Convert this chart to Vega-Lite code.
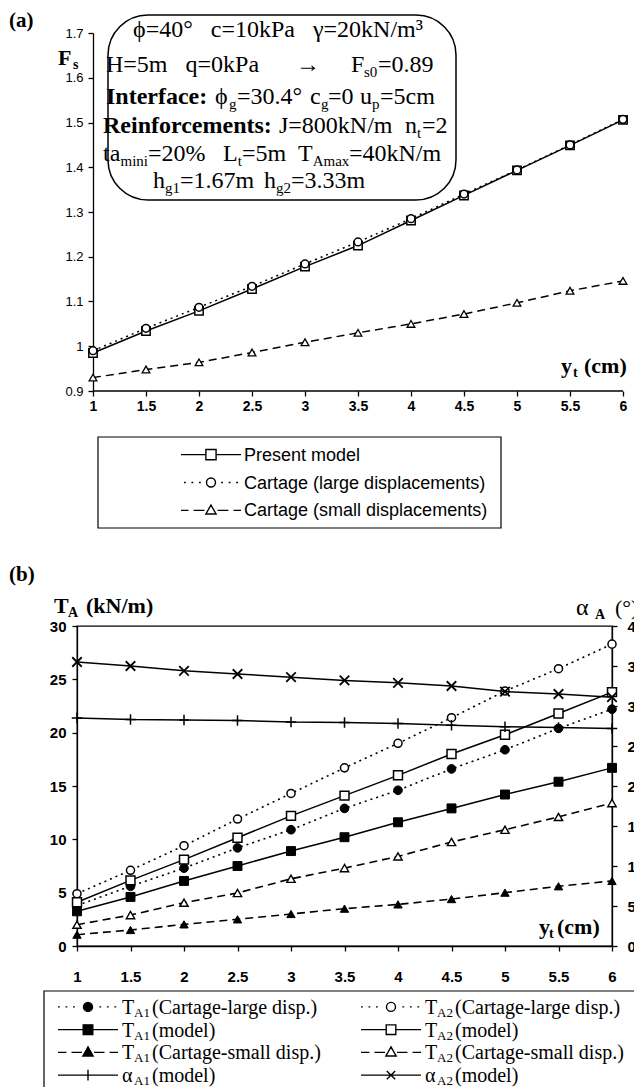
{
"$schema":"https://vega.github.io/schema/vega-lite/v6.json",
"background":"white",
"padding":{"left":8,"top":10,"right":0,"bottom":0},
"config":{"view":{"stroke":null},"axis":{"grid":false,"domainColor":"black","tickColor":"black","labelColor":"black","labelFont":"Liberation Sans","domainWidth":1.3,"tickWidth":1.3,"labelFlush":false,"labelOverlap":false}},
"spacing":34,
"resolve":{"scale":{"shape":"independent","fill":"independent"}},
"vconcat":[
{"spacing":23,"vconcat":[
{"width":546,"height":358,
"layer":[
{"data":{"values":[{}]},"mark":{"type":"rect","fill":"white","stroke":"black","strokeWidth":1.5,"cornerRadius":40},
"encoding":{"x":{"datum":1.1415,"type":"quantitative","scale":{"domain":[0.84906,6],"nice":false,"zero":false}},"x2":{"datum":4.4245},
"y":{"datum":1.74,"type":"quantitative","scale":{"domain":[0.9,1.7],"nice":false,"zero":false}},"y2":{"datum":1.327}}},
{"data":{"values":[{}]},"mark":{"type":"rule","stroke":"black","strokeWidth":1.3},"encoding":{"x":{"datum":1,"type":"quantitative"},"x2":{"datum":6},"y":{"datum":0.9,"type":"quantitative"}}},
{"data":{"values":[
{"x":1,"s":"m","v":0.985},{"x":1.5,"s":"m","v":1.034},{"x":2,"s":"m","v":1.079},{"x":2.5,"s":"m","v":1.128},{"x":3,"s":"m","v":1.178},{"x":3.5,"s":"m","v":1.225},{"x":4,"s":"m","v":1.281},{"x":4.5,"s":"m","v":1.337},{"x":5,"s":"m","v":1.393},{"x":5.5,"s":"m","v":1.449},{"x":6,"s":"m","v":1.506},
{"x":1,"s":"l","v":0.99},{"x":1.5,"s":"l","v":1.04},{"x":2,"s":"l","v":1.087},{"x":2.5,"s":"l","v":1.134},{"x":3,"s":"l","v":1.184},{"x":3.5,"s":"l","v":1.233},{"x":4,"s":"l","v":1.285},{"x":4.5,"s":"l","v":1.34},{"x":5,"s":"l","v":1.394},{"x":5.5,"s":"l","v":1.45},{"x":6,"s":"l","v":1.507},
{"x":1,"s":"s","v":0.93},{"x":1.5,"s":"s","v":0.948},{"x":2,"s":"s","v":0.964},{"x":2.5,"s":"s","v":0.986},{"x":3,"s":"s","v":1.009},{"x":3.5,"s":"s","v":1.03},{"x":4,"s":"s","v":1.05},{"x":4.5,"s":"s","v":1.072},{"x":5,"s":"s","v":1.097},{"x":5.5,"s":"s","v":1.124},{"x":6,"s":"s","v":1.146}]},
"encoding":{"x":{"field":"x","type":"quantitative","scale":{"domain":[0.84906,6],"nice":false,"zero":false},"axis":{"values":[1,1.5,2,2.5,3,3.5,4,4.5,5,5.5,6],"format":"~g","title":null,"domain":false,"labelFontSize":14,"labelFontWeight":"bold","tickSize":5,"labelPadding":3}},
"y":{"field":"v","type":"quantitative","scale":{"domain":[0.9,1.7],"nice":false,"zero":false},"axis":{"values":[0.9,1,1.1,1.2,1.3,1.4,1.5,1.6,1.7],"format":"~g","title":null,"offset":-16,"labelFontSize":13,"tickSize":5,"labelPadding":5}}},
"layer":[
{"transform":[{"filter":"datum.s==='s'"}],"layer":[{"mark":{"type":"line","stroke":"black","strokeWidth":1.5,"strokeDash":[8,5]}},{"mark":{"type":"point","shape":"triangle-up","size":60,"filled":true,"fill":"white","stroke":"black","strokeWidth":1.3,"opacity":1}}]},
{"transform":[{"filter":"datum.s==='m'"}],"layer":[{"mark":{"type":"line","stroke":"black","strokeWidth":1.5}},{"mark":{"type":"point","shape":"square","size":70,"filled":true,"fill":"white","stroke":"black","strokeWidth":1.5,"opacity":1}}]},
{"transform":[{"filter":"datum.s==='l'"}],"layer":[{"mark":{"type":"line","stroke":"black","strokeWidth":1.5,"strokeDash":[2,4]}},{"mark":{"type":"point","shape":"circle","size":60,"filled":true,"fill":"white","stroke":"black","strokeWidth":1.5,"opacity":1}}]}
]},
{"data":{"values":[{}]},"layer":[
{"mark":{"type":"text","font":"Liberation Serif","fontSize":21,"fontWeight":"bold","align":"left","baseline":"alphabetic","text":"(a)"},"encoding":{"x":{"datum":0.2075},"y":{"datum":1.7134}}},
{"mark":{"type":"text","font":"Liberation Serif","fontSize":22,"fontWeight":"bold","align":"left","baseline":"alphabetic","text":"F"},"encoding":{"x":{"datum":0.6698},"y":{"datum":1.6285}}},
{"mark":{"type":"text","font":"Liberation Serif","fontSize":14,"fontWeight":"bold","align":"left","baseline":"alphabetic","dy":4,"text":"s"},"encoding":{"x":{"datum":0.8113},"y":{"datum":1.6285}}},
{"mark":{"type":"text","font":"Liberation Serif","fontSize":22,"fontWeight":"bold","align":"left","baseline":"alphabetic","text":"y"},"encoding":{"x":{"datum":5.415},"y":{"datum":0.9402}}},
{"mark":{"type":"text","font":"Liberation Serif","fontSize":14,"fontWeight":"bold","align":"left","baseline":"alphabetic","dy":4,"text":"t"},"encoding":{"x":{"datum":5.528},"y":{"datum":0.9402}}},
{"mark":{"type":"text","font":"Liberation Serif","fontSize":22,"fontWeight":"bold","align":"left","baseline":"alphabetic","text":"(cm)"},"encoding":{"x":{"datum":5.632},"y":{"datum":0.9402}}},
{"mark":{"type":"text","font":"Liberation Serif","fontSize":24,"align":"center","baseline":"alphabetic","text":"ϕ=40°\u00a0\u00a0\u00a0c=10kPa\u00a0\u00a0\u00a0γ=20kN/m³"},"encoding":{"x":{"datum":2.7453},"y":{"datum":1.6911}}},
{"mark":{"type":"text","font":"Liberation Serif","fontSize":24,"align":"left","baseline":"alphabetic","text":"H=5m\u00a0\u00a0\u00a0q=0kPa"},"encoding":{"x":{"datum":1.1226},"y":{"datum":1.6129}}},
{"mark":{"type":"text","font":"Liberation Serif","fontSize":24,"align":"left","baseline":"alphabetic","text":"→"},"encoding":{"x":{"datum":2.9151},"y":{"datum":1.6129}}},
{"mark":{"type":"text","font":"Liberation Serif","fontSize":24,"align":"left","baseline":"alphabetic","text":"F"},"encoding":{"x":{"datum":3.434},"y":{"datum":1.6129}}},
{"mark":{"type":"text","font":"Liberation Serif","fontSize":15,"align":"left","baseline":"alphabetic","dy":5,"text":"s0"},"encoding":{"x":{"datum":3.5566},"y":{"datum":1.6129}}},
{"mark":{"type":"text","font":"Liberation Serif","fontSize":24,"align":"left","baseline":"alphabetic","text":"=0.89"},"encoding":{"x":{"datum":3.6887},"y":{"datum":1.6129}}},
{"mark":{"type":"text","font":"Liberation Serif","fontSize":24,"fontWeight":"bold","align":"left","baseline":"alphabetic","text":"Interface:"},"encoding":{"x":{"datum":1.1226},"y":{"datum":1.5413}}},
{"mark":{"type":"text","font":"Liberation Serif","fontSize":24,"align":"left","baseline":"alphabetic","text":"ϕ"},"encoding":{"x":{"datum":2.1509},"y":{"datum":1.5413}}},
{"mark":{"type":"text","font":"Liberation Serif","fontSize":15,"align":"left","baseline":"alphabetic","dy":5,"text":"g"},"encoding":{"x":{"datum":2.283},"y":{"datum":1.5413}}},
{"mark":{"type":"text","font":"Liberation Serif","fontSize":24,"align":"left","baseline":"alphabetic","text":"=30.4°"},"encoding":{"x":{"datum":2.3585},"y":{"datum":1.5413}}},
{"mark":{"type":"text","font":"Liberation Serif","fontSize":24,"align":"left","baseline":"alphabetic","text":"c"},"encoding":{"x":{"datum":3.0472},"y":{"datum":1.5413}}},
{"mark":{"type":"text","font":"Liberation Serif","fontSize":15,"align":"left","baseline":"alphabetic","dy":5,"text":"g"},"encoding":{"x":{"datum":3.1509},"y":{"datum":1.5413}}},
{"mark":{"type":"text","font":"Liberation Serif","fontSize":24,"align":"left","baseline":"alphabetic","text":"=0"},"encoding":{"x":{"datum":3.217},"y":{"datum":1.5413}}},
{"mark":{"type":"text","font":"Liberation Serif","fontSize":24,"align":"left","baseline":"alphabetic","text":"u"},"encoding":{"x":{"datum":3.5189},"y":{"datum":1.5413}}},
{"mark":{"type":"text","font":"Liberation Serif","fontSize":15,"align":"left","baseline":"alphabetic","dy":5,"text":"p"},"encoding":{"x":{"datum":3.632},"y":{"datum":1.5413}}},
{"mark":{"type":"text","font":"Liberation Serif","fontSize":24,"align":"left","baseline":"alphabetic","text":"=5cm"},"encoding":{"x":{"datum":3.7075},"y":{"datum":1.5413}}},
{"mark":{"type":"text","font":"Liberation Serif","fontSize":24,"fontWeight":"bold","align":"left","baseline":"alphabetic","text":"Reinforcements:"},"encoding":{"x":{"datum":1.0943},"y":{"datum":1.4765}}},
{"mark":{"type":"text","font":"Liberation Serif","fontSize":24,"align":"left","baseline":"alphabetic","text":"J=800kN/m"},"encoding":{"x":{"datum":2.7547},"y":{"datum":1.4765}}},
{"mark":{"type":"text","font":"Liberation Serif","fontSize":24,"align":"left","baseline":"alphabetic","text":"n"},"encoding":{"x":{"datum":3.9434},"y":{"datum":1.4765}}},
{"mark":{"type":"text","font":"Liberation Serif","fontSize":15,"align":"left","baseline":"alphabetic","dy":5,"text":"t"},"encoding":{"x":{"datum":4.0566},"y":{"datum":1.4765}}},
{"mark":{"type":"text","font":"Liberation Serif","fontSize":24,"align":"left","baseline":"alphabetic","text":"=2"},"encoding":{"x":{"datum":4.1038},"y":{"datum":1.4765}}},
{"mark":{"type":"text","font":"Liberation Serif","fontSize":24,"align":"left","baseline":"alphabetic","text":"ta"},"encoding":{"x":{"datum":1.0943},"y":{"datum":1.414}}},
{"mark":{"type":"text","font":"Liberation Serif","fontSize":15,"align":"left","baseline":"alphabetic","dy":5,"text":"mini"},"encoding":{"x":{"datum":1.2594},"y":{"datum":1.414}}},
{"mark":{"type":"text","font":"Liberation Serif","fontSize":24,"align":"left","baseline":"alphabetic","text":"=20%"},"encoding":{"x":{"datum":1.5189},"y":{"datum":1.414}}},
{"mark":{"type":"text","font":"Liberation Serif","fontSize":24,"align":"left","baseline":"alphabetic","text":"L"},"encoding":{"x":{"datum":2.2264},"y":{"datum":1.414}}},
{"mark":{"type":"text","font":"Liberation Serif","fontSize":15,"align":"left","baseline":"alphabetic","dy":5,"text":"t"},"encoding":{"x":{"datum":2.3651},"y":{"datum":1.414}}},
{"mark":{"type":"text","font":"Liberation Serif","fontSize":24,"align":"left","baseline":"alphabetic","text":"=5m"},"encoding":{"x":{"datum":2.4057},"y":{"datum":1.414}}},
{"mark":{"type":"text","font":"Liberation Serif","fontSize":24,"align":"left","baseline":"alphabetic","text":"T"},"encoding":{"x":{"datum":2.934},"y":{"datum":1.414}}},
{"mark":{"type":"text","font":"Liberation Serif","fontSize":15,"align":"left","baseline":"alphabetic","dy":5,"text":"Amax"},"encoding":{"x":{"datum":3.0726},"y":{"datum":1.414}}},
{"mark":{"type":"text","font":"Liberation Serif","fontSize":24,"align":"left","baseline":"alphabetic","text":"=40kN/m"},"encoding":{"x":{"datum":3.4151},"y":{"datum":1.414}}},
{"mark":{"type":"text","font":"Liberation Serif","fontSize":24,"align":"left","baseline":"alphabetic","text":"h"},"encoding":{"x":{"datum":1.566},"y":{"datum":1.3536}}},
{"mark":{"type":"text","font":"Liberation Serif","fontSize":15,"align":"left","baseline":"alphabetic","dy":5,"text":"g1"},"encoding":{"x":{"datum":1.6792},"y":{"datum":1.3536}}},
{"mark":{"type":"text","font":"Liberation Serif","fontSize":24,"align":"left","baseline":"alphabetic","text":"=1.67m"},"encoding":{"x":{"datum":1.8208},"y":{"datum":1.3536}}},
{"mark":{"type":"text","font":"Liberation Serif","fontSize":24,"align":"left","baseline":"alphabetic","text":"h"},"encoding":{"x":{"datum":2.6132},"y":{"datum":1.3536}}},
{"mark":{"type":"text","font":"Liberation Serif","fontSize":15,"align":"left","baseline":"alphabetic","dy":5,"text":"g2"},"encoding":{"x":{"datum":2.7264},"y":{"datum":1.3536}}},
{"mark":{"type":"text","font":"Liberation Serif","fontSize":24,"align":"left","baseline":"alphabetic","text":"=3.33m"},"encoding":{"x":{"datum":2.8679},"y":{"datum":1.3536}}}
]}
]},
{"width":424,"height":91,
"data":{"values":[{"series":"Present model"},{"series":"Cartage (large displacements)"},{"series":"Cartage (small displacements)"}]},
"encoding":{"x":{"datum":0.316,"type":"quantitative","scale":{"domain":[0,1],"nice":false,"zero":false},"axis":null},"y":{"field":"series","type":"nominal","sort":null,"scale":{"type":"point","padding":0.63},"axis":null}},
"layer":[
{"data":{"values":[{}]},"mark":{"type":"rect","fill":"transparent","stroke":"black","strokeWidth":1.2},"encoding":{"x":{"datum":0.04953},"x2":{"datum":1},"y":{"value":0},"y2":{"value":"height"}}},
{"mark":{"type":"point","size":3600,"filled":true,"fill":"white","stroke":"black","strokeWidth":1.4,"opacity":1},
"encoding":{"shape":{"field":"series","type":"nominal","scale":{"domain":["Present model","Cartage (large displacements)","Cartage (small displacements)"],"range":["M-1,0H-0.17M0.17,0H1M-0.17,-0.17H0.17V0.17H-0.17Z","M-0.9,0h0.06M-0.65,0h0.06M-0.4,0h0.06M0.34,0h0.06M0.59,0h0.06M0.84,0h0.06M0.15,0A0.15,0.15,0,1,1,-0.15,0A0.15,0.15,0,1,1,0.15,0Z","M-1,0H-0.75M-0.58,0H-0.22M0.22,0H0.58M0.75,0H1M0,-0.18L0.17,0.12H-0.17Z"]},"legend":null}}},
{"mark":{"type":"text","font":"Liberation Sans","fontSize":18,"align":"left","baseline":"middle","dy":1},
"encoding":{"x":{"datum":0.394},"text":{"field":"series"}}}
]}
]},
{"spacing":5,"vconcat":[
{"width":535,"height":320,"view":{"stroke":"black","strokeWidth":1.3},
"layer":[
{"data":{"values":[
{"x":1,"s":"1L","v":3.8},{"x":1.5,"s":"1L","v":5.6},{"x":2,"s":"1L","v":7.3},{"x":2.5,"s":"1L","v":9.2},{"x":3,"s":"1L","v":10.9},{"x":3.5,"s":"1L","v":12.9},{"x":4,"s":"1L","v":14.6},{"x":4.5,"s":"1L","v":16.6},{"x":5,"s":"1L","v":18.4},{"x":5.5,"s":"1L","v":20.4},{"x":6,"s":"1L","v":22.2},
{"x":1,"s":"1M","v":3.25},{"x":1.5,"s":"1M","v":4.6},{"x":2,"s":"1M","v":6.1},{"x":2.5,"s":"1M","v":7.5},{"x":3,"s":"1M","v":8.9},{"x":3.5,"s":"1M","v":10.2},{"x":4,"s":"1M","v":11.6},{"x":4.5,"s":"1M","v":12.9},{"x":5,"s":"1M","v":14.2},{"x":5.5,"s":"1M","v":15.4},{"x":6,"s":"1M","v":16.7},
{"x":1,"s":"1S","v":1.06},{"x":1.5,"s":"1S","v":1.5},{"x":2,"s":"1S","v":2.03},{"x":2.5,"s":"1S","v":2.5},{"x":3,"s":"1S","v":3.0},{"x":3.5,"s":"1S","v":3.5},{"x":4,"s":"1S","v":3.9},{"x":4.5,"s":"1S","v":4.4},{"x":5,"s":"1S","v":5.0},{"x":5.5,"s":"1S","v":5.6},{"x":6,"s":"1S","v":6.1},
{"x":1,"s":"2L","v":4.9},{"x":1.5,"s":"2L","v":7.1},{"x":2,"s":"2L","v":9.4},{"x":2.5,"s":"2L","v":11.9},{"x":3,"s":"2L","v":14.3},{"x":3.5,"s":"2L","v":16.7},{"x":4,"s":"2L","v":19.0},{"x":4.5,"s":"2L","v":21.4},{"x":5,"s":"2L","v":23.9},{"x":5.5,"s":"2L","v":26.0},{"x":6,"s":"2L","v":28.3},
{"x":1,"s":"2M","v":4.1},{"x":1.5,"s":"2M","v":6.15},{"x":2,"s":"2M","v":8.1},{"x":2.5,"s":"2M","v":10.15},{"x":3,"s":"2M","v":12.2},{"x":3.5,"s":"2M","v":14.1},{"x":4,"s":"2M","v":16.0},{"x":4.5,"s":"2M","v":18.0},{"x":5,"s":"2M","v":19.8},{"x":5.5,"s":"2M","v":21.8},{"x":6,"s":"2M","v":23.8},
{"x":1,"s":"2S","v":2.0},{"x":1.5,"s":"2S","v":2.9},{"x":2,"s":"2S","v":4.06},{"x":2.5,"s":"2S","v":4.97},{"x":3,"s":"2S","v":6.3},{"x":3.5,"s":"2S","v":7.3},{"x":4,"s":"2S","v":8.4},{"x":4.5,"s":"2S","v":9.75},{"x":5,"s":"2S","v":10.9},{"x":5.5,"s":"2S","v":12.1},{"x":6,"s":"2S","v":13.4}]},
"encoding":{"x":{"field":"x","type":"quantitative","scale":{"domain":[1,6],"nice":false,"zero":false},"axis":{"values":[1,1.5,2,2.5,3,3.5,4,4.5,5,5.5,6],"format":"~g","title":null,"labelFontSize":15,"labelFontWeight":"bold","tickSize":5,"labelPadding":18}},
"y":{"field":"v","type":"quantitative","scale":{"domain":[0,30],"nice":false},"axis":{"values":[0,5,10,15,20,25,30],"title":null,"labelFontSize":15,"labelFontWeight":"bold","tickSize":5,"labelPadding":6}}},
"layer":[
{"transform":[{"filter":"datum.s==='2L'"}],"layer":[{"mark":{"type":"line","stroke":"black","strokeWidth":1.6,"strokeDash":[2,4]}},{"mark":{"type":"point","shape":"circle","size":65,"filled":true,"fill":"white","stroke":"black","strokeWidth":1.5,"opacity":1}}]},
{"transform":[{"filter":"datum.s==='1L'"}],"layer":[{"mark":{"type":"line","stroke":"black","strokeWidth":1.6,"strokeDash":[2,4]}},{"mark":{"type":"point","shape":"circle","size":75,"filled":true,"fill":"black","stroke":"black","strokeWidth":1,"opacity":1}}]},
{"transform":[{"filter":"datum.s==='2M'"}],"layer":[{"mark":{"type":"line","stroke":"black","strokeWidth":1.5}},{"mark":{"type":"point","shape":"square","size":80,"filled":true,"fill":"white","stroke":"black","strokeWidth":1.5,"opacity":1}}]},
{"transform":[{"filter":"datum.s==='1M'"}],"layer":[{"mark":{"type":"line","stroke":"black","strokeWidth":1.5}},{"mark":{"type":"point","shape":"square","size":80,"filled":true,"fill":"black","stroke":"black","strokeWidth":1,"opacity":1}}]},
{"transform":[{"filter":"datum.s==='2S'"}],"layer":[{"mark":{"type":"line","stroke":"black","strokeWidth":1.6,"strokeDash":[8,5]}},{"mark":{"type":"point","shape":"triangle-up","size":70,"filled":true,"fill":"white","stroke":"black","strokeWidth":1.4,"opacity":1}}]},
{"transform":[{"filter":"datum.s==='1S'"}],"layer":[{"mark":{"type":"line","stroke":"black","strokeWidth":1.6,"strokeDash":[8,5]}},{"mark":{"type":"point","shape":"triangle-up","size":70,"filled":true,"fill":"black","stroke":"black","strokeWidth":1,"opacity":1}}]}
]},
{"data":{"values":[
{"x":1,"s":"a1","v":28.5},{"x":1.5,"s":"a1","v":28.3},{"x":2,"s":"a1","v":28.25},{"x":2.5,"s":"a1","v":28.2},{"x":3,"s":"a1","v":28.0},{"x":3.5,"s":"a1","v":27.95},{"x":4,"s":"a1","v":27.8},{"x":4.5,"s":"a1","v":27.6},{"x":5,"s":"a1","v":27.4},{"x":5.5,"s":"a1","v":27.3},{"x":6,"s":"a1","v":27.2},
{"x":1,"s":"a2","v":35.5},{"x":1.5,"s":"a2","v":35.0},{"x":2,"s":"a2","v":34.4},{"x":2.5,"s":"a2","v":34.0},{"x":3,"s":"a2","v":33.6},{"x":3.5,"s":"a2","v":33.2},{"x":4,"s":"a2","v":32.9},{"x":4.5,"s":"a2","v":32.5},{"x":5,"s":"a2","v":31.8},{"x":5.5,"s":"a2","v":31.5},{"x":6,"s":"a2","v":31.1}]},
"encoding":{"x":{"field":"x","type":"quantitative","scale":{"domain":[1,6],"nice":false,"zero":false}},
"y":{"field":"v","type":"quantitative","scale":{"domain":[0,40],"nice":false},"axis":{"orient":"right","values":[0,5,10,15,20,25,30,35,40],"title":null,"labelFontSize":15,"labelFontWeight":"bold","tickSize":5,"labelPadding":10}}},
"layer":[
{"transform":[{"filter":"datum.s==='a1'"}],"layer":[{"mark":{"type":"line","stroke":"black","strokeWidth":1.5}},{"mark":{"type":"point","shape":"M-1,0H1M0,-1V1","size":110,"filled":false,"stroke":"black","strokeWidth":1.5,"opacity":1}}]},
{"transform":[{"filter":"datum.s==='a2'"}],"layer":[{"mark":{"type":"line","stroke":"black","strokeWidth":1.5}},{"mark":{"type":"point","shape":"M-1,-1L1,1M-1,1L1,-1","size":90,"filled":false,"stroke":"black","strokeWidth":1.8,"opacity":1}}]}
]},
{"data":{"values":[{}]},"layer":[
{"mark":{"type":"text","font":"Liberation Serif","fontSize":21,"fontWeight":"bold","align":"left","baseline":"alphabetic","text":"(b)"},"encoding":{"x":{"datum":0.3645},"y":{"datum":34.22,"type":"quantitative","scale":{"domain":[0,30],"nice":false},"axis":null}}},
{"mark":{"type":"text","font":"Liberation Serif","fontSize":22,"fontWeight":"bold","align":"left","baseline":"alphabetic","text":"T"},"encoding":{"x":{"datum":0.785},"y":{"datum":31.22,"type":"quantitative","scale":{"domain":[0,30],"nice":false},"axis":null}}},
{"mark":{"type":"text","font":"Liberation Serif","fontSize":14,"fontWeight":"bold","align":"left","baseline":"alphabetic","dy":4,"text":"A"},"encoding":{"x":{"datum":0.916},"y":{"datum":31.22,"type":"quantitative","scale":{"domain":[0,30],"nice":false},"axis":null}}},
{"mark":{"type":"text","font":"Liberation Serif","fontSize":22,"fontWeight":"bold","align":"left","baseline":"alphabetic","text":"(kN/m)"},"encoding":{"x":{"datum":1.084},"y":{"datum":31.22,"type":"quantitative","scale":{"domain":[0,30],"nice":false},"axis":null}}},
{"mark":{"type":"text","font":"Liberation Serif","fontSize":24,"align":"left","baseline":"alphabetic","text":"α"},"encoding":{"x":{"datum":5.664},"y":{"datum":31.03,"type":"quantitative","scale":{"domain":[0,30],"nice":false},"axis":null}}},
{"mark":{"type":"text","font":"Liberation Serif","fontSize":14,"fontWeight":"bold","align":"left","baseline":"alphabetic","dy":4,"text":"A"},"encoding":{"x":{"datum":5.841},"y":{"datum":31.03,"type":"quantitative","scale":{"domain":[0,30],"nice":false},"axis":null}}},
{"mark":{"type":"text","font":"Liberation Serif","fontSize":22,"align":"left","baseline":"alphabetic","text":"(°)"},"encoding":{"x":{"datum":6.028},"y":{"datum":31.03,"type":"quantitative","scale":{"domain":[0,30],"nice":false},"axis":null}}},
{"mark":{"type":"text","font":"Liberation Serif","fontSize":22,"fontWeight":"bold","align":"left","baseline":"alphabetic","text":"y"},"encoding":{"x":{"datum":5.318},"y":{"datum":1.125,"type":"quantitative","scale":{"domain":[0,30],"nice":false},"axis":null}}},
{"mark":{"type":"text","font":"Liberation Serif","fontSize":14,"fontWeight":"bold","align":"left","baseline":"alphabetic","dy":4,"text":"t"},"encoding":{"x":{"datum":5.411},"y":{"datum":1.125,"type":"quantitative","scale":{"domain":[0,30],"nice":false},"axis":null}}},
{"mark":{"type":"text","font":"Liberation Serif","fontSize":22,"fontWeight":"bold","align":"left","baseline":"alphabetic","text":"(cm)"},"encoding":{"x":{"datum":5.486},"y":{"datum":1.125,"type":"quantitative","scale":{"domain":[0,30],"nice":false},"axis":null}}}
]}
],
"resolve":{"scale":{"y":"independent"},"axis":{"y":"independent"}}},
{"width":564,"height":100,
"data":{"values":[
{"layer":1,"kind":"large","key":"TA1 large","pre":"T","sub":"A1","rest":"(Cartage-large disp.)"},
{"layer":2,"kind":"large","key":"TA2 large","pre":"T","sub":"A2","rest":"(Cartage-large disp.)"},
{"layer":1,"kind":"model","key":"TA1 model","pre":"T","sub":"A1","rest":"(model)"},
{"layer":2,"kind":"model","key":"TA2 model","pre":"T","sub":"A2","rest":"(model)"},
{"layer":1,"kind":"small","key":"TA1 small","pre":"T","sub":"A1","rest":"(Cartage-small disp.)"},
{"layer":2,"kind":"small","key":"TA2 small","pre":"T","sub":"A2","rest":"(Cartage-small disp.)"},
{"layer":1,"kind":"alpha","key":"αA1 model","pre":"α","sub":"A1","rest":"(model)"},
{"layer":2,"kind":"alpha","key":"αA2 model","pre":"α","sub":"A2","rest":"(model)"}]},
"layer":[
{"data":{"values":[{}]},"mark":{"type":"rect","fill":"transparent","stroke":"black","strokeWidth":1.2},"encoding":{"x":{"datum":0.85479,"type":"quantitative","scale":{"domain":[0.9637,2.82509],"nice":false,"zero":false},"axis":null},"x2":{"datum":2.82509},"y":{"value":0},"y2":{"value":"height"}}},
{"encoding":{"x":{"field":"layer","type":"quantitative","scale":{"domain":[0.9637,2.82509],"nice":false,"zero":false},"axis":null},
"y":{"field":"kind","type":"nominal","scale":{"type":"point","padding":0.7,"domain":["large","model","small","alpha"]},"axis":null}},
"layer":[
{"mark":{"type":"point","size":3600,"filled":true,"stroke":"black","strokeWidth":1.4,"opacity":1},
"encoding":{"shape":{"field":"key","type":"nominal","scale":{"domain":["TA1 large","TA2 large","TA1 model","TA2 model","TA1 small","TA2 small","αA1 model","αA2 model"],"range":[
"M-1,0h0.06M-0.75,0h0.06M-0.5,0h0.06M0.38,0h0.06M0.63,0h0.06M0.88,0h0.06M0.15,0A0.15,0.15,0,1,1,-0.15,0A0.15,0.15,0,1,1,0.15,0Z",
"M-1,0h0.06M-0.75,0h0.06M-0.5,0h0.06M0.38,0h0.06M0.63,0h0.06M0.88,0h0.06M0.15,0A0.15,0.15,0,1,1,-0.15,0A0.15,0.15,0,1,1,0.15,0Z",
"M-1,0H-0.16M0.16,0H1M-0.16,-0.16H0.16V0.16H-0.16Z",
"M-1,0H-0.16M0.16,0H1M-0.16,-0.16H0.16V0.16H-0.16Z",
"M-1,0H-0.72M-0.55,0H-0.2M0.2,0H0.55M0.72,0H1M0,-0.18L0.17,0.12H-0.17Z",
"M-1,0H-0.72M-0.55,0H-0.2M0.2,0H0.55M0.72,0H1M0,-0.18L0.17,0.12H-0.17Z",
"M-1,0H1M0,-0.18V0.18",
"M-1,0H1M-0.14,-0.14L0.14,0.14M-0.14,0.14L0.14,-0.14"]},"legend":null},
"fill":{"field":"key","type":"nominal","scale":{"domain":["TA1 large","TA2 large","TA1 model","TA2 model","TA1 small","TA2 small","αA1 model","αA2 model"],"range":["black","white","black","white","black","white","black","black"]},"legend":null}}},
{"mark":{"type":"text","font":"Liberation Serif","fontSize":20,"align":"left","baseline":"middle","dx":34,"dy":1},"encoding":{"text":{"field":"pre"}}},
{"mark":{"type":"text","font":"Liberation Serif","fontSize":13,"align":"left","baseline":"middle","dx":46,"dy":6},"encoding":{"text":{"field":"sub"}}},
{"mark":{"type":"text","font":"Liberation Serif","fontSize":20,"align":"left","baseline":"middle","dx":64,"dy":1},"encoding":{"text":{"field":"rest"}}}
]}
]}
]}
]
}
